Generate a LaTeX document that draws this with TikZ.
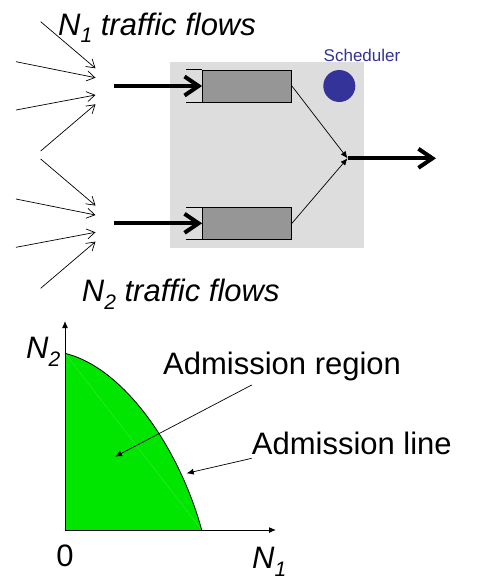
\documentclass[tikz,border=0pt]{standalone}
\usepackage{fontspec}
\setmainfont{Liberation Sans}
\usepackage{tikz}
\usetikzlibrary{arrows.meta,positioning}
\definecolor{boxgray}{RGB}{221,221,221}
\definecolor{queuegray}{RGB}{150,150,150}
\definecolor{schedblue}{RGB}{51,51,153}
\definecolor{regiongreen}{RGB}{0,230,0}
\tikzset{%
	queuebox/.style   = {draw, rectangle, fill=queuegray, minimum width=89pt, minimum height=32pt, inner sep=0pt, line width=0.8pt},
	bigtext/.style    = {inner sep=0pt, font=\fontsize{31}{36}\selectfont},
	flowarrow/.style  = {line width=0.7pt, -{Straight Barb[length=8pt,width=10pt]}},
	feedarrow/.style  = {line width=4pt, -{Straight Barb[length=14pt,width=19pt]}},
	pointarrow/.style = {line width=0.7pt, -{Latex[length=7pt,width=6pt]}},
	axisarrow/.style  = {line width=1pt, -{Latex[length=7pt,width=6pt]}},
}
\newcommand{\lowsub}[1]{\raisebox{-0.25em}{\fontsize{21}{21}\selectfont #1}}

\begin{document}
\begin{tikzpicture}[x=1pt,y=-1pt]
	\useasboundingbox (0,0) rectangle (478,587);
	
	\node[fill=boxgray, minimum width=193.5pt, minimum height=185.7pt, inner sep=0pt] (bg) at (266.75,154.85) {};
	\node[queuebox] (q1) at (247,86) {};
	\node[queuebox] (q2) at (247,223.3) {};
	\draw[line width=0.8pt] (q1.north west) -- ++(-16,0) (q1.south west) -- ++(-16,0);
	\draw[line width=0.8pt] (q2.north west) -- ++(-16,0) (q2.south west) -- ++(-16,0);
	\node[circle, fill=schedblue, minimum size=32pt, inner sep=0pt] (sched) at (339.3,86) {};
	\node[anchor=base, text=schedblue, font=\fontsize{17}{20}\selectfont, inner sep=0pt] (schedlabel) at (362,61.7) {Scheduler};
	
	\coordinate (mrg) at (347.5,158.3);
	\coordinate (out) at (436,158.3);
	\draw[pointarrow] (q1.east) -- (mrg);
	\draw[pointarrow] (q2.east) -- (mrg);
	\draw[feedarrow] (mrg) -- (out);
	
	\coordinate (in1) at (114,86);
	\coordinate (in2) at (114,223.3);
	\draw[feedarrow] (in1) -- (q1.west);
	\draw[feedarrow] (in2) -- (q2.west);
	
	\foreach \g/\dy in {1/0,2/137.3}{
		\foreach \i/\sx/\sy/\ey in {1/40.7/21.7/68.3, 2/16/61.7/77.7, 3/16/110/95, 4/40.7/151/104.3}{
			\coordinate (f\g\i) at (\sx,\sy+\dy);
			\coordinate (t\g\i) at (95.5,\ey+\dy);
			\draw[flowarrow] (f\g\i) -- (t\g\i);
		}
	}
	
	\node[bigtext, anchor=base west] (n1flows) at (58,35) {\textit{N\lowsub{1} traffic flows}};
	\node[bigtext, anchor=base west] (n2flows) at (81.7,301.7) {\textit{N\lowsub{2} traffic flows}};
	
	\coordinate (o) at (65,530);
	\coordinate (ytop) at (65,321);
	\coordinate (xend) at (276,530);
	\coordinate (n2pt) at (65,353.3);
	\coordinate (n1pt) at (201.7,530);
	\fill[regiongreen] (o) -- (n2pt) .. controls (125,368) and (180,450) .. (n1pt) -- cycle;
	\draw[regiongreen!75!white, line width=0.3pt] (n2pt) -- (n1pt);
	\draw[line width=0.8pt] (n2pt) .. controls (125,368) and (180,450) .. (n1pt);
	\draw[axisarrow] (o) -- (ytop);
	\draw[axisarrow] (o) -- (xend);
	
	\node[bigtext, anchor=base west] (n2axis) at (26,358.3) {\textit{N\lowsub{2}}};
	\node[bigtext, anchor=base] (zero) at (65,566.7) {0};
	\node[bigtext, anchor=base west] (n1axis) at (252,568.3) {\textit{N\lowsub{1}}};
	\node[bigtext, anchor=base west] (region) at (163,374) {Admission region};
	\node[bigtext, anchor=base west] (aline) at (251.7,454) {Admission line};
	
	\coordinate (regionfrom) at (251.7,385);
	\coordinate (regionpt) at (115,456.7);
	\coordinate (linefrom) at (251.7,458.3);
	\coordinate (linept) at (186.7,473.3);
	\draw[pointarrow] (regionfrom) -- (regionpt);
	\draw[pointarrow] (linefrom) -- (linept);
\end{tikzpicture}
\end{document}
